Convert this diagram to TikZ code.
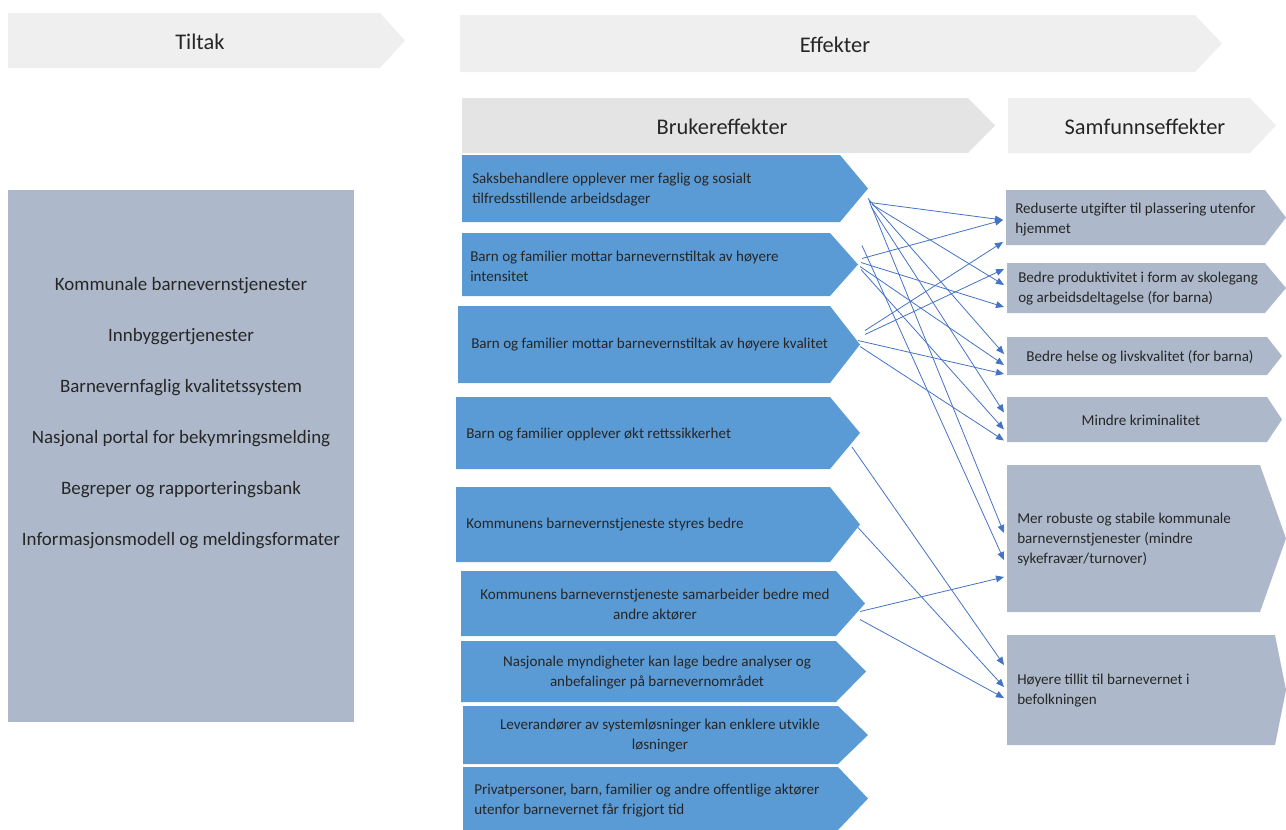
\documentclass[tikz,border=0pt]{standalone}
\usepackage{fontspec}
\setmainfont{Carlito}
\usetikzlibrary{arrows.meta,calc}
\definecolor{hdr}{HTML}{EFEFEF}
\definecolor{hdrdark}{HTML}{E4E4E4}
\definecolor{bluebox}{HTML}{5B9BD5}
\definecolor{graybox}{HTML}{ADB9CA}
\definecolor{linkblue}{HTML}{4472C4}
\definecolor{txt}{HTML}{262626}

% chevron: name, fill, x1, y1, x2 (end of body), y2, x of tip
\newcommand{\chevron}[7]{%
  \fill[#2] (#3,#4) -- (#5,#4) -- (#7,{(#4+#6)/2}) -- (#5,#6) -- (#3,#6) -- cycle;
  \coordinate (#1) at (#7,{(#4+#6)/2});
  \coordinate (#1-in) at (#3,{(#4+#6)/2});
}

\tikzset{
  head/.style={font=\fontsize{16.8}{19}\selectfont, text=txt, inner sep=0pt},
  btext/.style={font=\fontsize{11.3}{15}\selectfont, text=txt, inner sep=0pt},
  link/.style={linkblue, line width=0.6pt, -{Triangle[length=6pt,width=5pt]}},
}

\begin{document}
\begin{tikzpicture}[x=0.75pt,y=-0.75pt]
  \useasboundingbox (0,0) rectangle (1286,829);

  % headers
  \chevron{tiltak}{hdr}{8}{13}{380}{68}{405}
  \chevron{effekter}{hdr}{460}{15}{1195}{72}{1222}
  \chevron{bruker}{hdrdark}{462}{98}{968}{153}{995}
  \chevron{samfunn}{hdr}{1008}{98}{1250}{153}{1276}
  \node[head] (h1) at (200,42) {Tiltak};
  \node[head] (h2) at (835,45) {Effekter};
  \node[head] (h3) at (722,127) {Brukereffekter};
  \node[head] (h4) at (1145,127) {Samfunnseffekter};

  % tiltak
  \fill[graybox] (8,190) rectangle (354,722);
  \node[font=\fontsize{14.2}{38.25}\selectfont, text=txt, align=center] (tl) at (181,413)
    {Kommunale barnevernstjenester\\Innbyggertjenester\\Barnevernfaglig kvalitetssystem\\
     Nasjonal portal for bekymringsmelding\\Begreper og rapporteringsbank\\
     Informasjonsmodell og meldingsformater};

  % brukereffekter
  \chevron{s1}{bluebox}{462}{155}{840}{222}{868}
  \chevron{s2}{bluebox}{462}{233}{830}{296}{858}
  \chevron{s3}{bluebox}{458}{306}{830}{383}{860}
  \chevron{s4}{bluebox}{456}{397}{830}{469}{860}
  \chevron{s5}{bluebox}{456}{487}{830}{562}{860}
  \chevron{s6}{bluebox}{461}{571}{836}{636}{865}
  \chevron{s7}{bluebox}{461}{641}{836}{702}{866}
  \chevron{s8}{bluebox}{463}{706}{838}{764}{868}
  \chevron{s9}{bluebox}{463}{767}{838}{830}{868}
  \node[btext, anchor=west, align=left] (b1) at (472,190) {Saksbehandlere opplever mer faglig og sosialt\\tilfredsstillende arbeidsdager};
  \node[btext, anchor=west, align=left] (b2) at (470,266) {Barn og familier mottar barnevernstiltak av høyere\\intensitet};
  \node[btext, anchor=west] (b3) at (471,345) {Barn og familier mottar barnevernstiltak av høyere kvalitet};
  \node[btext, anchor=west] (b4) at (466,435) {Barn og familier opplever økt rettssikkerhet};
  \node[btext, anchor=west] (b5) at (466,525) {Kommunens barnevernstjeneste styres bedre};
  \node[btext, align=center] (b6) at (655,605) {Kommunens barnevernstjeneste samarbeider bedre med\\andre aktører};
  \node[btext, align=center] (b7) at (657,673) {Nasjonale myndigheter kan lage bedre analyser og\\anbefalinger på barnevernområdet};
  \node[btext, align=center] (b8) at (660,736) {Leverandører av systemløsninger kan enklere utvikle\\løsninger};
  \node[btext, anchor=west, align=left] (b9) at (474,801) {Privatpersoner, barn, familier og andre offentlige aktører\\utenfor barnevernet får frigjort tid};

  % samfunnseffekter
  \chevron{t1}{graybox}{1006}{190}{1265}{245}{1286}
  \chevron{t2}{graybox}{1007}{263}{1265}{313}{1286}
  \chevron{t3}{graybox}{1007}{337}{1267}{375}{1282}
  \chevron{t4}{graybox}{1007}{397}{1267}{442}{1282}
  \chevron{t5}{graybox}{1007}{465}{1260}{612}{1286}
  \chevron{t6}{graybox}{1007}{635}{1275}{745}{1286}
  \node[btext, anchor=west, align=left] (e1) at (1015,220) {Reduserte utgifter til plassering utenfor\\hjemmet};
  \node[btext, anchor=west, align=left] (e2) at (1018,289) {Bedre produktivitet i form av skolegang\\og arbeidsdeltagelse (for barna)};
  \node[btext] (e3) at (1140,357) {Bedre helse og livskvalitet (for barna)};
  \node[btext] (e4) at (1141,420) {Mindre kriminalitet};
  \node[btext, anchor=west, align=left] (e5) at (1017,539) {Mer robuste og stabile kommunale\\barnevernstjenester (mindre\\sykefravær/turnover)};
  \node[btext, anchor=west, align=left] (e6) at (1017,691) {Høyere tillit til barnevernet i\\befolkningen};

  % virkninger
  \draw[link] ($(s1)+(2,14)$) -- ($(t1-in)+(-3,2.5)$);
  \draw[link] ($(s1)+(4,16)$) -- ($(t2-in)+(-3,-3)$);
  \draw[link] ($(s1)+(0,10)$) -- ($(t3-in)+(-3,-2)$);
  \draw[link] ($(s1)+(3,18)$) -- ($(t4-in)+(-3,-7)$);
  \draw[link] ($(s1)+(1,12)$) -- ($(t5-in)+(-3,-5.5)$);
  \draw[link] ($(s2)+(4,-6)$) -- ($(t1-in)+(-3,2.5)$);
  \draw[link] ($(s2)+(3,-2)$) -- ($(t2-in)+(-3,19)$);
  \draw[link] ($(s2)+(2,2)$) -- ($(t3-in)+(-3,9)$);
  \draw[link] ($(s2)+(3,5)$) -- ($(t4-in)+(-3,10)$);
  \draw[link] ($(s2)+(4,-19)$) -- ($(t5-in)+(-3,21.5)$);
  \draw[link] ($(s3)+(5,-14)$) -- ($(t1-in)+(-3,24.5)$);
  \draw[link] ($(s3)+(5,-10)$) -- ($(t2-in)+(-3,-19)$);
  \draw[link] ($(s3)+(-2,-4)$) -- ($(t3-in)+(-3,18)$);
  \draw[link] ($(s3)+(0,2)$) -- ($(t4-in)+(-3,21)$);
  \draw[link] ($(s4)+(-8,14)$) -- ($(t6-in)+(-3,-25)$);
  \draw[link] ($(s5)+(-2,3)$) -- ($(t6-in)+(-3,-3)$);
  \draw[link] ($(s6)+(-5,8)$) -- ($(t5-in)+(-3,38.5)$);
  \draw[link] ($(s6)+(-5,16)$) -- ($(t6-in)+(-3,8)$);
\end{tikzpicture}
\end{document}
